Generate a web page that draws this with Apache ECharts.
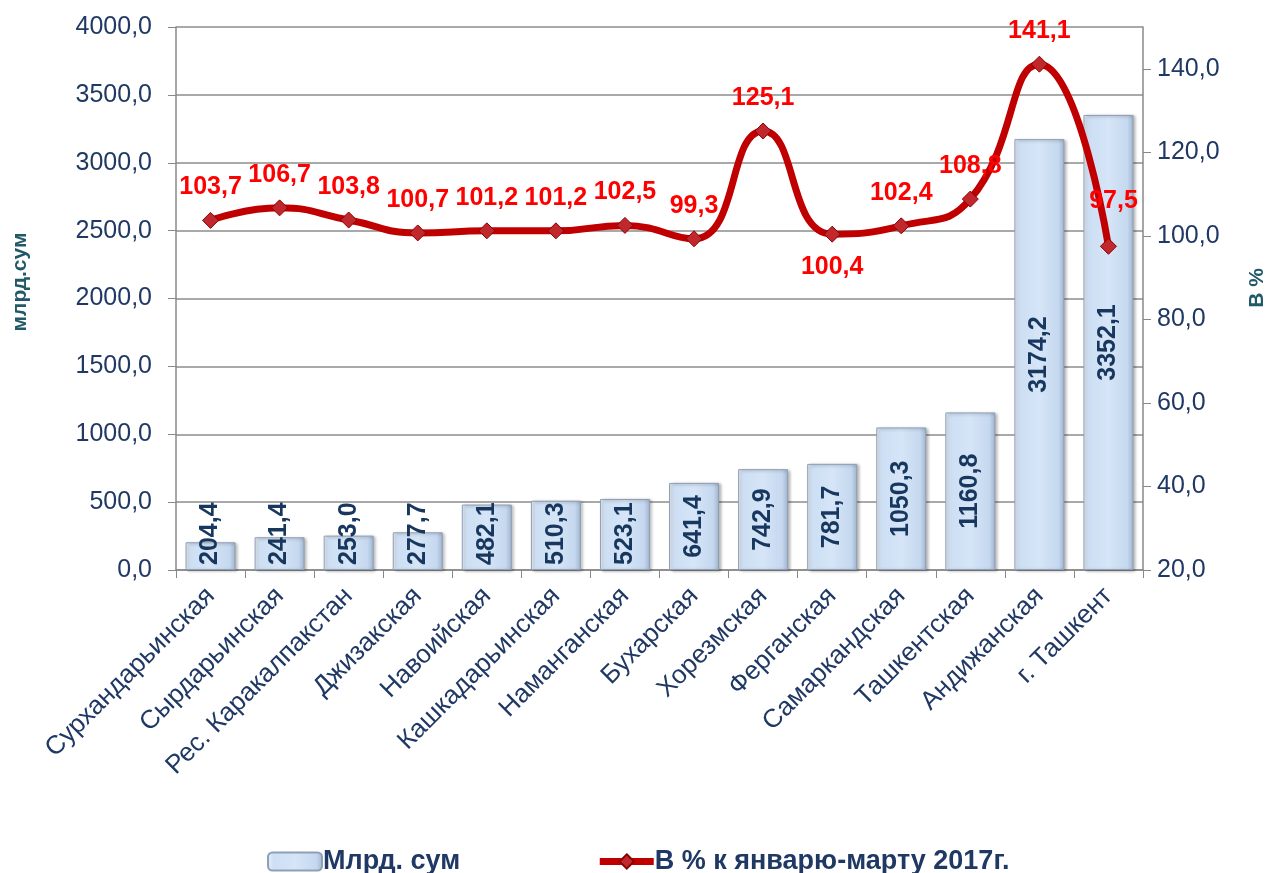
<!DOCTYPE html>
<html>
<head>
<meta charset="utf-8">
<script src="https://cdn.jsdelivr.net/npm/echarts@6/dist/echarts.min.js"></script>
<style>
  html, body { margin: 0; padding: 0; background: #fff; }
  #chart { width: 1269px; height: 873px; }
</style>
</head>
<body>
<div id="chart"></div>
<script>
const regions = [
  'Сурхандарьинская', 'Сырдарьинская', 'Рес. Каракалпакстан', 'Джизакская',
  'Навоийская', 'Кашкадарьинская', 'Наманганская', 'Бухарская', 'Хорезмская',
  'Ферганская', 'Самаркандская', 'Ташкентская', 'Андижанская', 'г. Ташкент',
];
const volume = [204.4, 241.4, 253.0, 277.7, 482.1, 510.3, 523.1, 641.4, 742.9, 781.7, 1050.3, 1160.8, 3174.2, 3352.1];
const growth = [103.7, 106.7, 103.8, 100.7, 101.2, 101.2, 102.5, 99.3, 125.1, 100.4, 102.4, 108.8, 141.1, 97.5];

const navy = '#1f3864';
const teal = '#215968';
const fmt = (v) => v.toFixed(1).replace('.', ',');

// short bars keep their label at the base, taller ones centre it
const barData = volume.map((v) => ({
  value: v,
  label: v > 600
    ? { position: 'inside', align: 'center' }
    : { position: 'insideBottom', align: 'left', distance: 5 },
}));

const lineData = growth.map((v, i) => {
  const item = { value: v };
  if (regions[i] === 'Ферганская') {
    item.label = { position: 'bottom', distance: 12 };
  } else if (regions[i] === 'г. Ташкент') {
    item.label = { offset: [5, -12] };
  }
  return item;
});

const chart = echarts.init(document.getElementById('chart'));
chart.setOption({
  animation: false,
  textStyle: { fontFamily: 'Liberation Sans, Arial, sans-serif' },
  grid: { left: 176, right: 126, top: 27, bottom: 303 },
  legend: {
    left: 262,
    top: 843,
    itemGap: 136,
    itemWidth: 54,
    itemHeight: 18,
    textStyle: { color: navy, fontSize: 27, fontWeight: 'bold', padding: [0, 0, 0, -4] },
    data: [
      { name: 'Млрд. сум' },
      { name: 'В % к январю-марту 2017г.', lineStyle: { width: 7 } },
    ],
  },
  graphic: [
    {
      type: 'text', x: 20, y: 282, rotation: Math.PI / 2,
      style: {
        text: 'млрд.сум', fill: teal, align: 'center', verticalAlign: 'middle',
        font: 'bold 21px "Liberation Sans Narrow", "Liberation Sans", sans-serif',
      },
    },
    {
      type: 'text', x: 1257, y: 288, rotation: Math.PI / 2,
      style: {
        text: 'В %', fill: teal, align: 'center', verticalAlign: 'middle',
        font: 'bold 21px "Liberation Sans Narrow", "Liberation Sans", sans-serif',
      },
    },
  ],
  xAxis: {
    type: 'category',
    data: regions,
    axisLine: { lineStyle: { color: '#888', width: 1.5 } },
    axisTick: { show: true, length: 8, lineStyle: { color: '#888' } },
    axisLabel: { rotate: 45, fontSize: 26, color: navy, margin: 22, interval: 0 },
  },
  yAxis: [
    {
      type: 'value',
      min: 0,
      max: 4000,
      interval: 500,
      axisLine: { show: true, lineStyle: { color: '#888', width: 1.5 } },
      axisTick: { show: true, length: 8, lineStyle: { color: '#888' } },
      axisLabel: { fontSize: 25, color: navy, margin: 24, formatter: fmt },
      splitLine: { lineStyle: { color: '#8c8c8c', width: 1.5 } },
    },
    {
      type: 'value',
      min: 20,
      max: 150,
      interval: 20,
      axisLine: { show: true, lineStyle: { color: '#888', width: 1.5 } },
      axisTick: { show: true, length: 8, lineStyle: { color: '#888' } },
      axisLabel: { fontSize: 25, color: navy, margin: 14, showMaxLabel: false, formatter: fmt },
      splitLine: { show: false },
    },
  ],
  series: [
    {
      name: 'Млрд. сум',
      type: 'bar',
      yAxisIndex: 0,
      barWidth: 50,
      data: barData,
      itemStyle: {
        color: new echarts.graphic.LinearGradient(0, 0, 1, 0, [
          { offset: 0, color: '#e8f0fa' },
          { offset: 0.12, color: '#cddff4' },
          { offset: 0.5, color: '#d6e5f7' },
          { offset: 0.88, color: '#c5d8ef' },
          { offset: 1, color: '#9fb4cf' },
        ]),
        borderColor: '#8f9fb5',
        borderWidth: 1,
        shadowColor: 'rgba(0,0,0,0.3)',
        shadowBlur: 3,
        shadowOffsetX: 2,
        shadowOffsetY: 1,
      },
      label: {
        show: true,
        rotate: 90,
        verticalAlign: 'middle',
        color: '#17375e',
        fontSize: 25,
        fontWeight: 'bold',
        formatter: (p) => fmt(p.value),
      },
      z: 2,
    },
    {
      name: 'В % к январю-марту 2017г.',
      type: 'line',
      yAxisIndex: 1,
      smooth: 0.5,
      data: lineData,
      symbol: 'diamond',
      symbolSize: 16,
      lineStyle: { color: '#c00000', width: 7 },
      itemStyle: { color: '#c0282d', borderColor: '#8b0000', borderWidth: 1 },
      label: {
        show: true,
        position: 'top',
        distance: 12,
        color: '#ff0000',
        fontSize: 25,
        fontWeight: 'bold',
        formatter: (p) => fmt(p.value),
      },
      z: 5,
    },
  ],
});
</script>
</body>
</html>
